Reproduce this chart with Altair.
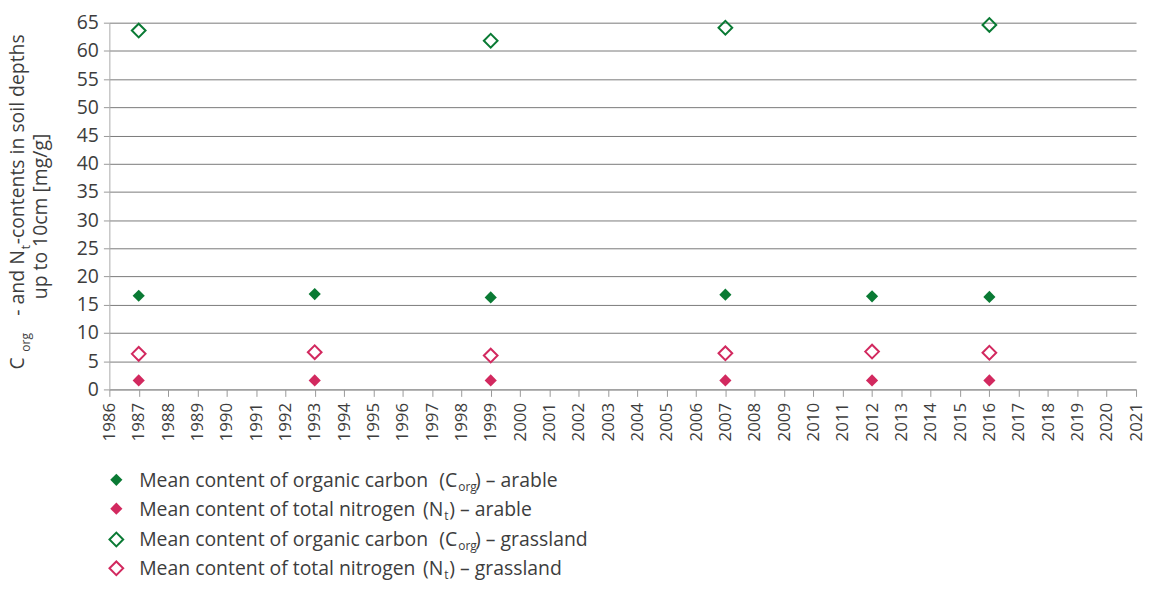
import altair as alt
import pandas as pd

# ---------------- data ----------------
years_c_arable = [1987, 1993, 1999, 2007, 2012, 2016]
c_arable = [16.6, 16.9, 16.3, 16.8, 16.5, 16.4]

years_n_arable = [1987, 1993, 1999, 2007, 2012, 2016]
n_arable = [1.6, 1.6, 1.6, 1.6, 1.6, 1.6]

years_c_grass = [1987, 1999, 2007, 2016]
c_grass = [63.6, 61.8, 64.1, 64.6]

years_n_grass = [1987, 1993, 1999, 2007, 2012, 2016]
n_grass = [6.3, 6.6, 6.0, 6.4, 6.7, 6.5]

x_ticks = list(range(1986, 2022))
y_ticks = list(range(0, 66, 5))

series_names = ["C arable", "N arable", "C grassland", "N grassland"]

# ---------------- style ----------------
FONT = "Open Sans"
TXT = "#3d3d3d"
GREEN = "#0a7a34"
PINK = "#d2295f"
colors = [GREEN, PINK, GREEN, PINK]

rows = []
for name, kind, ys, vs in [
    (series_names[0], "filled", years_c_arable, c_arable),
    (series_names[1], "filled", years_n_arable, n_arable),
    (series_names[2], "open", years_c_grass, c_grass),
    (series_names[3], "open", years_n_grass, n_grass),
]:
    for yr, v in zip(ys, vs):
        rows.append({"year": yr, "value": v, "series": name, "kind": kind})
df = pd.DataFrame(rows)

x_enc = alt.X(
    "year:Q",
    scale=alt.Scale(domain=[1986, 2021], nice=False, zero=False),
    axis=alt.Axis(
        values=x_ticks, format="d", labelAngle=-90, title=None, grid=False,
        labelFont=FONT, labelFontSize=17, labelColor=TXT, labelPadding=6,
        tickColor="#999999", tickSize=7, domainColor="#999999",
        labelOverlap=False, labelFlush=False,
    ),
)
y_enc = alt.Y(
    "value:Q",
    scale=alt.Scale(domain=[0, 65], nice=False),
    axis=alt.Axis(
        values=y_ticks, title=None, grid=True, gridColor="#7a7a7a", gridWidth=1,
        labelFont=FONT, labelFontSize=19.5, labelColor=TXT, labelPadding=5,
        tickColor="#999999", tickSize=6, domainColor="#aaaaaa",
        labelFlush=False,
    ),
)
color_enc = alt.Color("series:N", scale=alt.Scale(domain=series_names, range=colors), legend=None)

base = alt.Chart(df)
filled = base.transform_filter("datum.kind == 'filled'").mark_point(
    shape="diamond", filled=True, size=150, opacity=1
).encode(x=x_enc, y=y_enc, color=color_enc)
hollow = base.transform_filter("datum.kind == 'open'").mark_point(
    shape="diamond", filled=False, size=190, strokeWidth=2, opacity=1
).encode(x=x_enc, y=y_enc, color=color_enc)

OX, OY = 110, 21  # page position of plot origin


def text(s, px, py, size=19, angle=0, align="left", baseline="alphabetic"):
    return alt.Chart(alt.Data(values=[{}])).mark_text(
        font=FONT, fontSize=size, color=TXT, angle=angle, align=align, baseline=baseline
    ).encode(x=alt.value(px - OX), y=alt.value(py - OY), text=alt.value(s))


def symbol(col, fill, px, py):
    if fill:
        m = alt.Chart(alt.Data(values=[{}])).mark_point(
            shape="diamond", filled=True, size=150, color=col, opacity=1)
    else:
        m = alt.Chart(alt.Data(values=[{}])).mark_point(
            shape="diamond", filled=False, size=190, strokeWidth=2, color=col, opacity=1)
    return m.encode(x=alt.value(px - OX), y=alt.value(py - OY))


layers = [filled, hollow]

# y-axis title (rotated, with subscripts)
layers += [
    text("C", 24, 370, 19.5, 270),
    text("org", 30, 352, 12, 270),
    text(" - and N", 24, 250, 19.5, 270, align="right"),
    text("t", 30, 249, 12, 270),
    text("-contents in soil depths", 24, 244, 19.5, 270),
    text("up to 10cm [mg/g]", 47, 216, 19.5, 270, align="center"),
]

# legend
legend_rows = [
    (GREEN, True, 488, "Mean content of organic carbon", "(C", "org", ") \u2013 arable"),
    (PINK, True, 517, "Mean content of total nitrogen", "(N", "t", ") \u2013 arable"),
    (GREEN, False, 548, "Mean content of organic carbon", "(C", "org", ") \u2013 grassland"),
    (PINK, False, 577, "Mean content of total nitrogen", "(N", "t", ") \u2013 grassland"),
]
for col, fill, base_y, main, open_par, sub, tail in legend_rows:
    layers.append(symbol(col, fill, 117, base_y - 7))
    layers.append(text(main, 140, base_y, 19.5))
    if sub == "org":
        layers.append(text(open_par, 460, base_y, 19.5, align="right"))
        layers.append(text(sub, 461, base_y + 4, 12))
        layers.append(text(tail, 478, base_y, 19.5))
    else:
        layers.append(text(open_par, 446, base_y, 19.5, align="right"))
        layers.append(text(sub, 447, base_y + 4, 12))
        layers.append(text(tail, 452, base_y, 19.5))

chart = alt.layer(*layers).properties(
    width=1033,
    height=369,
    padding={"left": 102, "top": 13, "right": 8, "bottom": 192},
    autosize=alt.AutoSizeParams(type="none"),
).configure_view(strokeWidth=0)

chart.save("out.html", embed_options={"renderer": "svg", "actions": False})
